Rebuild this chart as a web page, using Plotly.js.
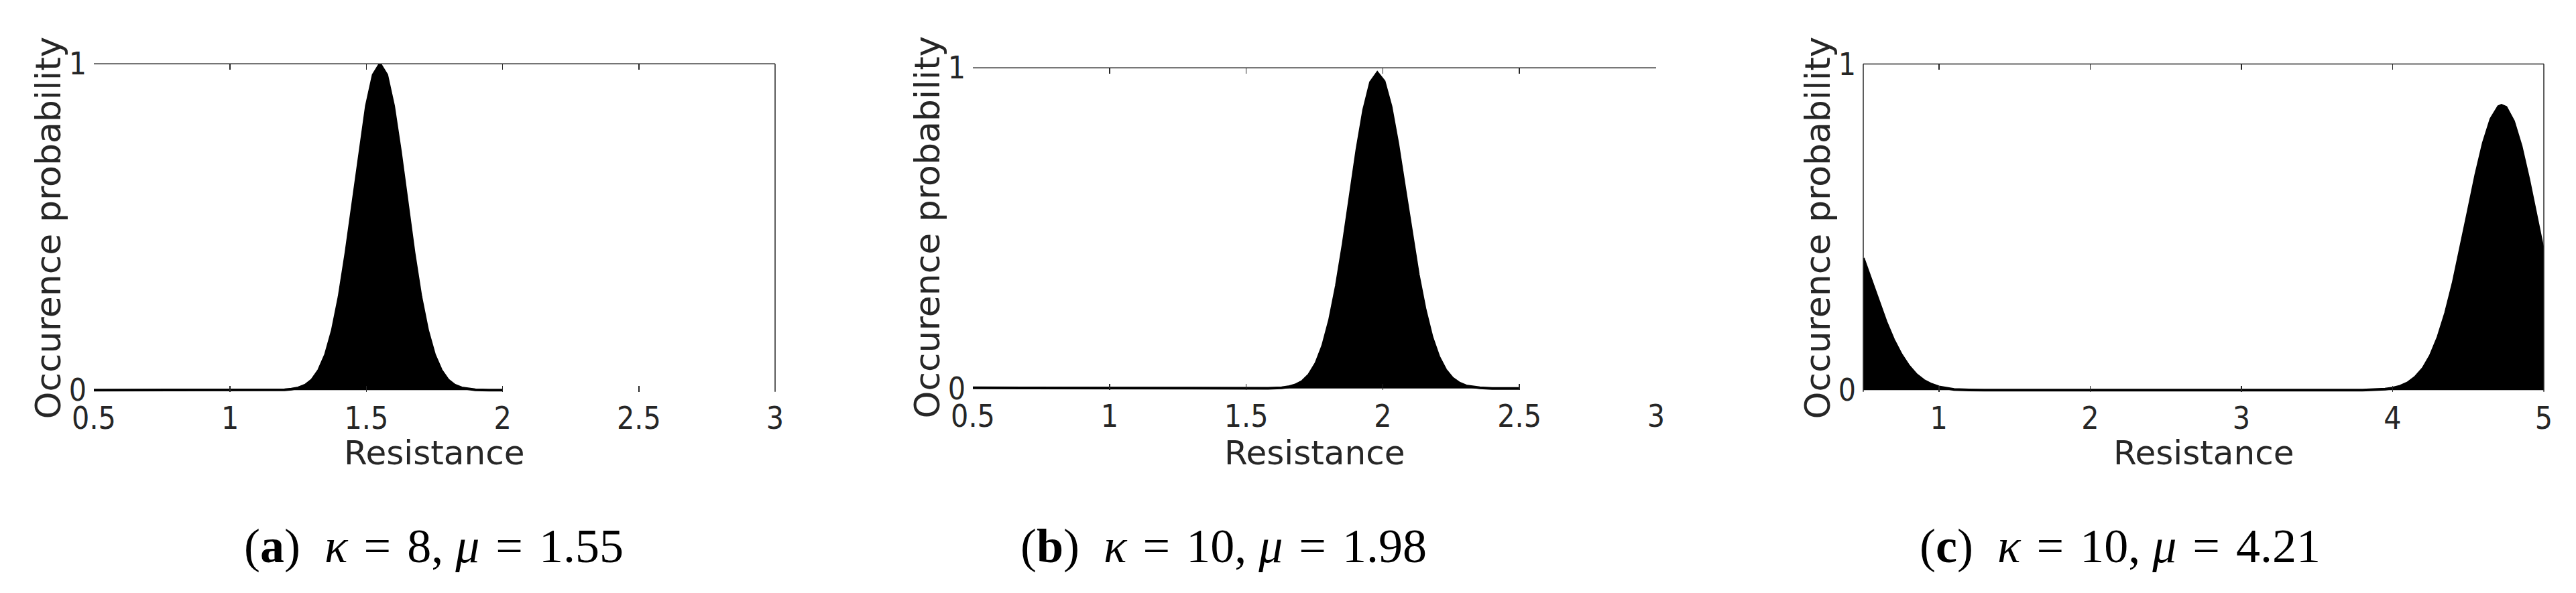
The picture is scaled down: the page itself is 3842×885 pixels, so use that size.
<!DOCTYPE html>
<html>
<head>
<meta charset="utf-8">
<script src="https://cdn.plot.ly/plotly-3.0.1.min.js"></script>
<style>
  html, body { margin: 0; padding: 0; background: #fff; }
  #myDiv { width: 3842px; height: 885px; }
</style>
</head>
<body>
<div id="myDiv"></div>
<script>
// panel (a): kappa = 8, mu = 1.55
var resA = [0.5, 1.0, 1.15, 1.2, 1.225, 1.25, 1.275, 1.3, 1.325, 1.35, 1.375, 1.4, 1.425, 1.45, 1.475, 1.5, 1.525, 1.55,
            1.575, 1.6, 1.625, 1.65, 1.675, 1.7, 1.725, 1.75, 1.775, 1.8, 1.825, 1.85, 1.875, 1.9, 1.95, 2.0];
var probA = [0, 0, 0, 0.001, 0.003, 0.007, 0.015, 0.031, 0.061, 0.109, 0.183, 0.287, 0.421, 0.575, 0.732, 0.871, 0.966, 1.0,
             0.966, 0.871, 0.732, 0.575, 0.421, 0.287, 0.183, 0.109, 0.061, 0.031, 0.015, 0.007, 0.003, 0.001, 0, 0];

// panel (b): kappa = 10, mu = 1.98
var resB = [0.5, 1.0, 1.3, 1.4, 1.5, 1.58, 1.63, 1.655, 1.68, 1.705, 1.73, 1.755, 1.78, 1.805, 1.83, 1.855, 1.88, 1.905, 1.93, 1.955, 1.98,
            2.005, 2.03, 2.055, 2.08, 2.105, 2.13, 2.155, 2.18, 2.205, 2.23, 2.255, 2.28, 2.305, 2.33, 2.355, 2.4, 2.5];
var probB = [0.002, 0.001, 0.001, 0.002, 0.001, 0.0003, 0.002, 0.005, 0.011, 0.022, 0.043, 0.078, 0.133, 0.213, 0.32, 0.451, 0.597, 0.744, 0.869, 0.955, 0.985,
             0.958, 0.88, 0.763, 0.626, 0.485, 0.355, 0.246, 0.16, 0.099, 0.058, 0.032, 0.017, 0.008, 0.004, 0.002, 0, 0];

// panel (c): kappa = 10, mu = 4.21
var resC = [0.5, 0.55, 0.6, 0.65, 0.7, 0.75, 0.8, 0.85, 0.9, 0.95, 1.0, 1.05, 1.1, 1.2, 1.3,
            3.8, 3.85, 3.9, 3.95, 4.0, 4.05, 4.1, 4.15, 4.2, 4.25, 4.3, 4.35, 4.4, 4.45, 4.5, 4.55, 4.6, 4.65, 4.7, 4.72,
            4.75, 4.8, 4.85, 4.9, 4.95, 5.0];
var probC = [0.405, 0.34, 0.28, 0.21, 0.155, 0.11, 0.075, 0.048, 0.03, 0.018, 0.01, 0.005, 0.002, 0.0005, 0,
             0, 0.0007, 0.0015, 0.0031, 0.0063, 0.0122, 0.0225, 0.04, 0.066, 0.106, 0.162, 0.236, 0.328, 0.434, 0.548, 0.66, 0.758, 0.831, 0.869, 0.873,
             0.867, 0.824, 0.748, 0.647, 0.534, 0.421];

var ticksAB = [0.5, 1, 1.5, 2, 2.5, 3];
var tickTextAB = ['0.5', '1', '1.5', '2', '2.5', '3'];
var ticksC = [1, 2, 3, 4, 5];
var tickTextC = ['1', '2', '3', '4', '5'];
var yTicks = [0, 1];
var yTickText = ['0', '1'];

var xTitle = 'Resistance';
var yTitle = 'Occurence probability';
// wider math spacing around "=" like the LaTeX original
var sp = '\u2004';
var captions = [
    '(<b>a</b>)\u2002<i>κ</i>' + sp + '=' + sp + '8, <i>μ</i>' + sp + '=' + sp + '1.55',
    '(<b>b</b>)\u2002<i>κ</i>' + sp + '=' + sp + '10, <i>μ</i>' + sp + '=' + sp + '1.98',
    '(<b>c</b>)\u2002<i>κ</i>' + sp + '=' + sp + '10, <i>μ</i>' + sp + '=' + sp + '4.21'
];

var axisColor = '#262626';
var tickFont = {family: 'DejaVu Sans Condensed, DejaVu Sans', size: 46, color: axisColor};
var titleFont = {family: 'DejaVu Sans', size: 50, color: axisColor};
var yTitleFont = {family: 'DejaVu Sans', size: 52, color: axisColor};
var capFont = {family: 'Liberation Serif, Times New Roman, serif', size: 72, color: 'black'};

function areaTrace(x, y, xa, ya) {
    return {
        x: x,
        y: y,
        xaxis: xa,
        yaxis: ya,
        mode: 'lines',
        fill: 'tozeroy',
        fillcolor: 'black',
        line: {color: 'black', width: 4},
        hoverinfo: 'skip',
        showlegend: false
    };
}

function xAxis(domain, range, vals, text, anchor) {
    return {
        domain: domain,
        range: range,
        anchor: anchor,
        tickmode: 'array',
        tickvals: vals,
        ticktext: text,
        ticks: 'inside',
        ticklen: 9,
        tickwidth: 1.5,
        tickcolor: axisColor,
        mirror: 'ticks',
        showline: false,
        showgrid: false,
        zeroline: false,
        tickfont: tickFont,
        ticklabelstandoff: 8
    };
}

function yAxis(domain, anchor) {
    return {
        domain: domain,
        range: [-0.005, 1],
        anchor: anchor,
        tickmode: 'array',
        tickvals: yTicks,
        ticktext: yTickText,
        ticks: '',
        showline: false,
        showgrid: false,
        zeroline: false,
        tickfont: tickFont,
        ticklabelstandoff: 10
    };
}

function frameLine(xa, ya, x0, y0, x1, y1) {
    return {
        type: 'line',
        xref: xa + ' domain',
        yref: ya + ' domain',
        x0: x0, y0: y0, x1: x1, y1: y1,
        line: {color: axisColor, width: 1.5}
    };
}

function note(text, x, y, font, angle) {
    return {
        text: text,
        xref: 'paper',
        yref: 'paper',
        x: x,
        y: y,
        xanchor: 'center',
        yanchor: 'middle',
        showarrow: false,
        textangle: angle || 0,
        font: font
    };
}

var data = [
    areaTrace(resA, probA, 'x', 'y'),
    areaTrace(resB, probB, 'x2', 'y2'),
    areaTrace(resC, probC, 'x3', 'y3')
];

var layout = {
    width: 3842,
    height: 885,
    margin: {l: 0, r: 0, t: 0, b: 0},
    paper_bgcolor: 'white',
    plot_bgcolor: 'white',
    xaxis: xAxis([0.03644, 0.30089], [0.5, 3], ticksAB, tickTextAB, 'y'),
    yaxis: yAxis([0.33932, 0.89232], 'x'),
    xaxis2: xAxis([0.37767, 0.64289], [0.5, 3], ticksAB, tickTextAB, 'y2'),
    yaxis2: yAxis([0.34226, 0.88554], 'x2'),
    xaxis3: xAxis([0.72332, 0.98751], [0.5, 5], ticksC, tickTextC, 'y3'),
    yaxis3: yAxis([0.33932, 0.89220], 'x3'),
    shapes: [
        frameLine('x', 'y', 0, 1, 1, 1),
        frameLine('x', 'y', 1, 0, 1, 1),
        frameLine('x2', 'y2', 0, 1, 1, 1),
        frameLine('x3', 'y3', 0, 1, 1, 1),
        frameLine('x3', 'y3', 0, 0, 0, 1),
        frameLine('x3', 'y3', 1, 0, 1, 1)
    ],
    annotations: [
        note(yTitle, 0.01874, 0.6164, yTitleFont, -90),
        note(yTitle, 0.35997, 0.6164, yTitleFont, -90),
        note(yTitle, 0.70562, 0.6164, yTitleFont, -90),
        note(xTitle, 0.16866, 0.23616, titleFont),
        note(xTitle, 0.51028, 0.23616, titleFont),
        note(xTitle, 0.85542, 0.23616, titleFont),
        note(captions[0], 0.1684, 0.0791, capFont),
        note(captions[1], 0.475, 0.0791, capFont),
        note(captions[2], 0.823, 0.0791, capFont)
    ]
};

Plotly.newPlot('myDiv', data, layout, {displayModeBar: false, staticPlot: true});
</script>
</body>
</html>
